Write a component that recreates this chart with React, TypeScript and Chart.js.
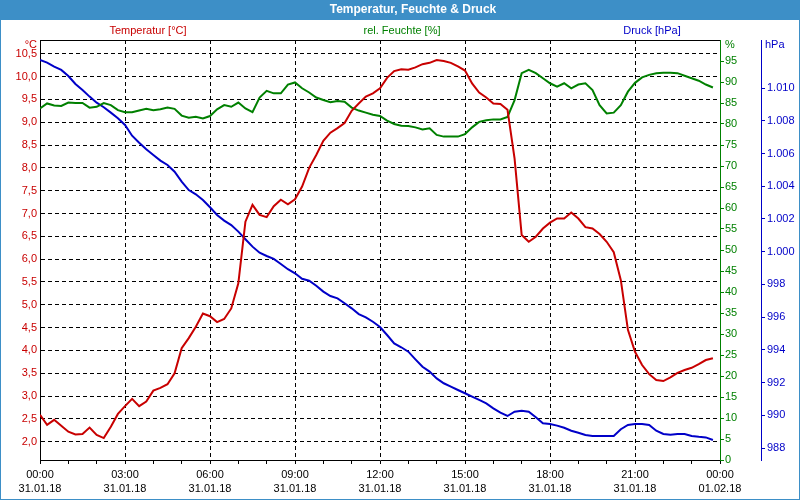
import React, { useEffect, useRef } from "react";
import { Chart, registerables } from "chart.js";

Chart.register(...registerables);

// ---------- data ----------
const hours = [
  0, 0.25, 0.5, 0.75, 1, 1.25, 1.5, 1.75, 2, 2.25, 2.5, 2.75,
  3, 3.25, 3.5, 3.75, 4, 4.25, 4.5, 4.75, 5, 5.25, 5.5, 5.75,
  6, 6.25, 6.5, 6.75, 7, 7.25, 7.5, 7.75, 8, 8.25, 8.5, 8.75,
  9, 9.25, 9.5, 9.75, 10, 10.25, 10.5, 10.75, 11, 11.25, 11.5, 11.75,
  12, 12.25, 12.5, 12.75, 13, 13.25, 13.5, 13.75, 14, 14.25, 14.5, 14.75,
  15, 15.25, 15.5, 15.75, 16, 16.25, 16.5, 16.75, 17, 17.25, 17.5, 17.75,
  18, 18.25, 18.5, 18.75, 19, 19.25, 19.5, 19.75, 20, 20.25, 20.5, 20.75,
  21, 21.25, 21.5, 21.75, 22, 22.25, 22.5, 22.75, 23, 23.25, 23.5, 23.75,
];

const temperature = [
  2.59, 2.37, 2.48, 2.35, 2.22, 2.16, 2.17, 2.31, 2.15, 2.08, 2.33, 2.61,
  2.78, 2.94, 2.78, 2.88, 3.12, 3.18, 3.26, 3.5, 4.05, 4.27, 4.52, 4.81,
  4.75, 4.62, 4.69, 4.92, 5.47, 6.82, 7.19, 6.97, 6.92, 7.16, 7.3, 7.2,
  7.31, 7.59, 8.0, 8.28, 8.59, 8.77, 8.87, 8.98, 9.25, 9.41, 9.56, 9.63,
  9.74, 9.97, 10.12, 10.16, 10.15, 10.2, 10.27, 10.3, 10.36, 10.34, 10.3, 10.22,
  10.13, 9.85, 9.65, 9.54, 9.41, 9.4, 9.27, 8.2, 6.53, 6.38, 6.49, 6.67,
  6.8, 6.89, 6.89, 7.02, 6.89, 6.7, 6.67, 6.55, 6.38, 6.15, 5.54, 4.45,
  3.97, 3.68, 3.48, 3.35, 3.33, 3.41, 3.51, 3.57, 3.62, 3.7, 3.79, 3.83,
];

const humidity = [
  83.7, 84.9, 84.4, 84.3, 85.1, 85.0, 85.0, 83.9, 84.1, 85.0, 84.5, 83.3,
  82.8, 82.8, 83.2, 83.6, 83.3, 83.5, 83.9, 83.6, 82.0, 81.5, 81.7, 81.3,
  81.9, 83.5, 84.5, 84.1, 85.1, 83.7, 82.8, 86.3, 87.9, 87.3, 87.3, 89.4,
  89.9, 88.5, 87.5, 86.3, 85.7, 85.2, 85.5, 85.3, 83.9, 83.2, 82.7, 82.2,
  81.9, 80.8, 80.0, 79.6, 79.5, 79.2, 78.7, 79.0, 77.4, 77.0, 77.0, 77.0,
  77.6, 79.2, 80.5, 80.9, 81.1, 81.1, 81.7, 85.7, 92.1, 92.9, 92.1, 90.9,
  89.7, 88.9, 89.7, 88.5, 89.4, 89.7, 88.1, 84.5, 82.5, 82.7, 84.5, 87.7,
  89.8, 91.1, 91.7, 92.1, 92.2, 92.2, 92.1, 91.5, 90.9, 90.3, 89.4, 88.7,
];

const pressure = [
  1011.72, 1011.56, 1011.31, 1011.11, 1010.74, 1010.25, 1009.89, 1009.48, 1009.11, 1008.83, 1008.5, 1008.16,
  1007.75, 1007.09, 1006.66, 1006.26, 1005.91, 1005.57, 1005.3, 1004.89, 1004.28, 1003.77, 1003.51, 1003.16,
  1002.72, 1002.25, 1001.9, 1001.63, 1001.23, 1000.76, 1000.31, 999.94, 999.74, 999.56, 999.25, 998.93,
  998.68, 998.35, 998.23, 997.92, 997.56, 997.29, 997.15, 996.85, 996.54, 996.19, 995.99, 995.72,
  995.4, 994.91, 994.4, 994.16, 993.89, 993.42, 992.97, 992.67, 992.26, 991.96, 991.75, 991.55,
  991.35, 991.14, 990.94, 990.73, 990.43, 990.16, 989.96, 990.22, 990.28, 990.22, 989.88, 989.51,
  989.47, 989.37, 989.24, 989.06, 988.94, 988.8, 988.74, 988.74, 988.74, 988.74, 989.15, 989.41,
  989.47, 989.47, 989.41, 989.06, 988.86, 988.82, 988.86, 988.86, 988.74, 988.69, 988.65, 988.49,
];

const hourTicks = [0, 1, 2, 3, 4, 5, 6, 7, 8, 9, 10, 11, 12, 13, 14, 15, 16, 17, 18, 19, 20, 21, 22, 23, 24];
const xTickTimes = ["00:00", "03:00", "06:00", "09:00", "12:00", "15:00", "18:00", "21:00", "00:00"];
const xTickDates = ["31.01.18", "31.01.18", "31.01.18", "31.01.18", "31.01.18", "31.01.18", "31.01.18", "31.01.18", "01.02.18"];
const tempTicks = [2.0, 2.5, 3.0, 3.5, 4.0, 4.5, 5.0, 5.5, 6.0, 6.5, 7.0, 7.5, 8.0, 8.5, 9.0, 9.5, 10.0, 10.5];
const humTicks = [0, 5, 10, 15, 20, 25, 30, 35, 40, 45, 50, 55, 60, 65, 70, 75, 80, 85, 90, 95];
const presTicks = [988, 990, 992, 994, 996, 998, 1000, 1002, 1004, 1006, 1008, 1010];

const chartTitle = "Temperatur, Feuchte & Druck";
const seriesNames = ["Temperatur [°C]", "rel. Feuchte [%]", "Druck [hPa]"];
const unitLabels = ["°C", "%", "hPa"];

// ---------- styles ----------
const RED = "#c80000";
const GREEN = "#008000";
const BLUE = "#0000c8";
const BAR = "#3d8fc7";
const FONT = '"Liberation Sans", Arial, sans-serif';

const framePlugin = {
  id: "frame",
  beforeDraw(chart: any) {
    const { ctx, width, height } = chart;
    ctx.save();
    ctx.fillStyle = "#ffffff";
    ctx.fillRect(0, 0, width, height);
    ctx.fillStyle = BAR;
    ctx.fillRect(0, 0, width, 20);
    ctx.fillStyle = "#ffffff";
    ctx.font = `bold 12px ${FONT}`;
    ctx.textAlign = "center";
    ctx.textBaseline = "middle";
    ctx.fillText(chartTitle, 413, 10);

    ctx.font = `11px ${FONT}`;
    ctx.fillStyle = RED;
    ctx.fillText(seriesNames[0], 148, 31);
    ctx.fillStyle = GREEN;
    ctx.fillText(seriesNames[1], 402, 31);
    ctx.fillStyle = BLUE;
    ctx.fillText(seriesNames[2], 652, 31);

    ctx.textAlign = "right";
    ctx.fillStyle = RED;
    ctx.fillText(unitLabels[0], 37, 45);
    ctx.textAlign = "left";
    ctx.fillStyle = GREEN;
    ctx.fillText(unitLabels[1], 725, 45);
    ctx.fillStyle = BLUE;
    ctx.fillText(unitLabels[2], 765, 45);
    ctx.restore();
  },
  afterDraw(chart: any) {
    const { ctx, width, height, chartArea } = chart;
    ctx.save();
    ctx.lineWidth = 1;
    ctx.strokeStyle = "#000000";
    ctx.beginPath();
    ctx.moveTo(chartArea.left, Math.round(chartArea.top) + 0.5);
    ctx.lineTo(chartArea.right, Math.round(chartArea.top) + 0.5);
    ctx.stroke();
    ctx.strokeStyle = BAR;
    ctx.strokeRect(0.5, 0.5, width - 1, height - 1);
    ctx.restore();
  },
};

const fmtPressure = (v: number) =>
  v >= 1000 ? "1." + String(Math.round(v - 1000)).padStart(3, "0") : String(Math.round(v));

export default function App() {
  const ref = useRef<HTMLCanvasElement>(null);

  useEffect(() => {
    document.body.style.margin = "0";
    const canvas = ref.current;
    if (!canvas) return;
    const tickFont = { family: FONT, size: 11 };
    const chart = new Chart(canvas, {
      type: "line",
      data: {
        datasets: [
          {
            label: seriesNames[0],
            data: hours.map((h, i) => ({ x: h, y: temperature[i] })),
            borderColor: RED,
            borderWidth: 2,
            pointRadius: 0,
            tension: 0,
            fill: false,
            yAxisID: "yT",
          },
          {
            label: seriesNames[1],
            data: hours.map((h, i) => ({ x: h, y: humidity[i] })),
            borderColor: GREEN,
            borderWidth: 2,
            pointRadius: 0,
            tension: 0,
            fill: false,
            yAxisID: "yH",
          },
          {
            label: seriesNames[2],
            data: hours.map((h, i) => ({ x: h, y: pressure[i] })),
            borderColor: BLUE,
            borderWidth: 2,
            pointRadius: 0,
            tension: 0,
            fill: false,
            yAxisID: "yP",
          },
        ],
      },
      options: {
        responsive: false,
        maintainAspectRatio: false,
        animation: false,
        devicePixelRatio: 1,
        layout: { padding: { top: 40, left: 0, right: 0, bottom: 0 } },
        plugins: {
          legend: { display: false },
          tooltip: { enabled: false },
          title: { display: false },
        },
        scales: {
          x: {
            type: "linear",
            position: "bottom",
            min: 0,
            max: 24,
            afterBuildTicks: (s: any) => {
              s.ticks = hourTicks.map((v) => ({ value: v }));
            },
            afterFit: (s: any) => {
              s.height = 40;
            },
            grid: {
              color: (c: any) =>
                c.tick && c.tick.value % 3 === 0 && c.tick.value > 0 && c.tick.value < 24
                  ? "#000000"
                  : "rgba(0,0,0,0)",
              tickColor: "#000000",
              tickLength: 4,
              lineWidth: 1,
            },
            border: { display: true, color: "#000000", width: 1, dash: [4, 3] },
            ticks: {
              autoSkip: false,
              maxRotation: 0,
              minRotation: 0,
              padding: 3,
              color: "#000000",
              font: { family: FONT, size: 11, lineHeight: 1.36 },
              callback: (v: any) => {
                const n = Number(v);
                return n % 3 === 0 ? [xTickTimes[n / 3], xTickDates[n / 3]] : "";
              },
            },
          },
          yT: {
            type: "linear",
            position: "left",
            min: 1.6,
            max: 10.8,
            afterBuildTicks: (s: any) => {
              s.ticks = tempTicks.map((v) => ({ value: v }));
            },
            afterFit: (s: any) => {
              s.width = 40;
            },
            grid: { color: "#000000", drawTicks: false, lineWidth: 1 },
            border: { display: true, color: "#000000", width: 1, dash: [4, 3] },
            ticks: {
              color: RED,
              padding: 3,
              font: tickFont,
              callback: (v: any) => Number(v).toFixed(1).replace(".", ","),
            },
          },
          yH: {
            type: "linear",
            position: "right",
            weight: 0,
            min: 0,
            max: 100,
            afterBuildTicks: (s: any) => {
              s.ticks = humTicks.map((v) => ({ value: v }));
            },
            afterFit: (s: any) => {
              s.width = 41;
            },
            grid: { drawOnChartArea: false, tickLength: 4, tickColor: GREEN, color: GREEN },
            border: { display: true, color: GREEN, width: 1 },
            ticks: { color: GREEN, padding: 1, font: tickFont, callback: (v: any) => String(v) },
          },
          yP: {
            type: "linear",
            position: "right",
            weight: 1,
            min: 987.27,
            max: 1012.94,
            afterBuildTicks: (s: any) => {
              s.ticks = presTicks.map((v) => ({ value: v }));
            },
            afterFit: (s: any) => {
              s.width = 39;
            },
            grid: { drawOnChartArea: false, tickLength: 4, tickColor: BLUE, color: BLUE },
            border: { display: true, color: BLUE, width: 1 },
            ticks: { color: BLUE, padding: 2, font: tickFont, callback: (v: any) => fmtPressure(Number(v)) },
          },
        },
      } as any,
      plugins: [framePlugin],
    });
    return () => chart.destroy();
  }, []);

  return (
    <div style={{ position: "fixed", left: 0, top: 0, width: 800, height: 500 }}>
      <canvas ref={ref} width={800} height={500} style={{ display: "block" }} />
    </div>
  );
}
